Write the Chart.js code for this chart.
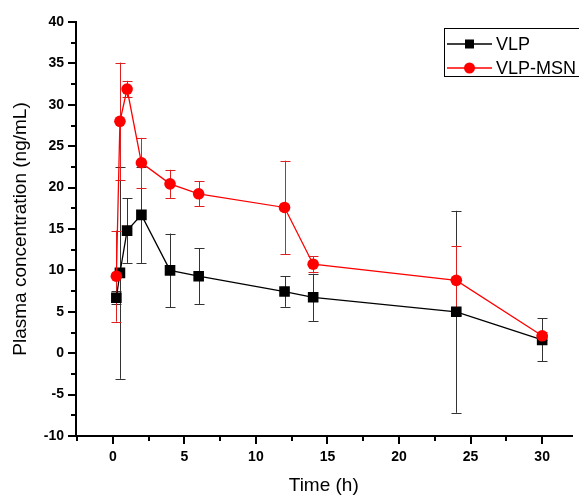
<!DOCTYPE html>
<html>
<head>
<meta charset="utf-8">
<script src="https://cdn.jsdelivr.net/npm/chart.js@4.4.1/dist/chart.umd.min.js"></script>
<style>
  html, body { margin: 0; padding: 0; background: #fff; overflow: hidden; }
  #wrap { width: 579px; height: 495px; position: relative; }
</style>
</head>
<body>
<div id="wrap"><canvas id="chart" width="579" height="495"></canvas></div>
<script>
// Sampling times (h)
const timeHours = [0.25, 0.5, 1, 2, 4, 6, 12, 14, 24, 30];

// Mean plasma concentration (ng/mL) and standard deviation per group
const vlpMean = [6.7, 9.7, 14.8, 16.7, 10.0, 9.3, 7.45, 6.75, 5.0, 1.6];
const vlpSD   = [0.8, 12.8, 3.9, 5.8, 4.45, 3.35, 1.85, 2.85, 12.2, 2.6];
const msnMean = [9.3, 28.0, 31.9, 23.0, 20.45, 19.25, 17.6, 10.75, 8.8, 2.1];
const msnSD   = [5.5, 7.1, 1.0, 3.0, 1.7, 1.5, 5.65, 0.95, 4.2, 0.5];

const seriesNames = ['VLP', 'VLP-MSN'];

// Axis tick values
const xMajorTicks = [0, 5, 10, 15, 20, 25, 30];
const xMinorTicks = [-2.5, 2.5, 7.5, 12.5, 17.5, 22.5, 27.5];
const yMajorTicks = [-10, -5, 0, 5, 10, 15, 20, 25, 30, 35, 40];
const yMinorTicks = [-7.5, -2.5, 2.5, 7.5, 12.5, 17.5, 22.5, 27.5, 32.5, 37.5];

const FONT = '"Liberation Sans", Arial, Helvetica, sans-serif';

const toPoints = (xs, ys) => xs.map((x, i) => ({ x: x, y: ys[i] }));

// Vertical error bars with caps, positioned through the chart scales
const errorBarPlugin = {
  id: 'errorBars',
  beforeDatasetsDraw(chart) {
    const ctx = chart.ctx;
    const xs = chart.scales.x, ys = chart.scales.y;
    const metas = chart.getSortedVisibleDatasetMetas().slice().reverse();
    metas.forEach(meta => {
      const ds = chart.data.datasets[meta.index];
      if (!ds.errors) return;
      ctx.save();
      ctx.strokeStyle = ds.errorColor;
      ctx.lineWidth = 1;
      ds.data.forEach((p, i) => {
        const e = ds.errors[i];
        const px = Math.round(xs.getPixelForValue(p.x)) + 0.5;
        const top = ys.getPixelForValue(p.y + e);
        const bot = ys.getPixelForValue(p.y - e);
        const cap = 5;
        ctx.beginPath();
        ctx.moveTo(px, top); ctx.lineTo(px, bot);
        ctx.moveTo(px - cap, Math.round(top) + 0.5); ctx.lineTo(px + cap, Math.round(top) + 0.5);
        ctx.moveTo(px - cap, Math.round(bot) + 0.5); ctx.lineTo(px + cap, Math.round(bot) + 0.5);
        ctx.stroke();
      });
      ctx.restore();
    });
  }
};

// Short minor tick marks between the labelled ticks
const minorTickPlugin = {
  id: 'minorTicks',
  afterDraw(chart) {
    const ctx = chart.ctx;
    const xs = chart.scales.x, ys = chart.scales.y;
    const area = chart.chartArea;
    ctx.save();
    ctx.strokeStyle = '#000';
    ctx.lineWidth = 2;
    ctx.beginPath();
    xMinorTicks.forEach(v => {
      const px = Math.round(xs.getPixelForValue(v));
      ctx.moveTo(px, area.bottom); ctx.lineTo(px, area.bottom + 5);
    });
    yMinorTicks.forEach(v => {
      const py = Math.round(ys.getPixelForValue(v));
      ctx.moveTo(area.left, py); ctx.lineTo(area.left - 5, py);
    });
    ctx.stroke();
    ctx.restore();
  }
};

// Boxed legend in the upper right corner
const boxLegendPlugin = {
  id: 'boxLegend',
  afterDraw(chart) {
    const ctx = chart.ctx;
    const left = 444.5, top = 28.5, w = 160, h = 48;
    ctx.save();
    ctx.strokeStyle = '#000';
    ctx.lineWidth = 1;
    ctx.strokeRect(left, top, w, h);
    const rows = [44, 68];
    chart.data.datasets.forEach((ds, i) => {
      const y = rows[i];
      ctx.strokeStyle = ds.borderColor;
      ctx.lineWidth = 1.3;
      ctx.beginPath();
      ctx.moveTo(447, y); ctx.lineTo(492, y);
      ctx.stroke();
      ctx.fillStyle = ds.backgroundColor;
      if (ds.pointStyle === 'rect') {
        ctx.fillRect(465, y - 4.5, 9, 9);
      } else {
        ctx.beginPath();
        ctx.arc(469.5, y, 5.5, 0, Math.PI * 2);
        ctx.fill();
      }
      ctx.fillStyle = '#000';
      ctx.font = '18px ' + FONT;
      ctx.textBaseline = 'middle';
      ctx.textAlign = 'left';
      ctx.fillText(ds.label, 496, y + 1);
    });
    ctx.restore();
  }
};

new Chart(document.getElementById('chart'), {
  type: 'line',
  data: {
    datasets: [
      {
        label: seriesNames[0],
        data: toPoints(timeHours, vlpMean),
        errors: vlpSD,
        errorColor: '#333',
        borderColor: '#000',
        backgroundColor: '#000',
        borderWidth: 1.3,
        pointStyle: 'rect',
        pointRadius: 7.5,
        pointBorderWidth: 0,
        tension: 0,
        order: 2
      },
      {
        label: seriesNames[1],
        data: toPoints(timeHours, msnMean),
        errors: msnSD,
        errorColor: '#e02020',
        borderColor: '#ff0000',
        backgroundColor: '#ff0000',
        borderWidth: 1.3,
        pointStyle: 'circle',
        pointRadius: 5.8,
        pointBorderWidth: 0,
        tension: 0,
        order: 1
      }
    ]
  },
  options: {
    responsive: false,
    animation: false,
    devicePixelRatio: 1,
    layout: { padding: { top: 22, right: 0, left: 0, bottom: 0 } },
    plugins: {
      legend: { display: false },
      tooltip: { enabled: false }
    },
    scales: {
      x: {
        type: 'linear',
        min: -2.57,
        max: 32.05,
        afterBuildTicks(scale) { scale.ticks = xMajorTicks.map(v => ({ value: v })); },
        afterFit(scale) { scale.height = 59; },
        border: { display: true, color: '#000', width: 2 },
        grid: { drawOnChartArea: false, drawTicks: true, tickLength: 8, color: '#000', lineWidth: 2 },
        ticks: {
          color: '#000',
          padding: 5,
          maxRotation: 0,
          font: { family: FONT, size: 14, weight: 'bold' },
          callback: v => String(v)
        },
        title: {
          display: true,
          text: 'Time (h)',
          color: '#000',
          padding: { top: 0, bottom: 0 },
          font: { family: FONT, size: 19, lineHeight: 1 }
        }
      },
      y: {
        type: 'linear',
        min: -10,
        max: 40,
        afterBuildTicks(scale) { scale.ticks = yMajorTicks.map(v => ({ value: v })); },
        afterFit(scale) { scale.width = 76; },
        border: { display: true, color: '#000', width: 2 },
        grid: { drawOnChartArea: false, drawTicks: true, tickLength: 8, color: '#000', lineWidth: 2 },
        ticks: {
          color: '#000',
          padding: 4,
          font: { family: FONT, size: 14, weight: 'bold' },
          callback: v => String(v)
        },
        title: {
          display: true,
          text: 'Plasma concentration (ng/mL)',
          color: '#000',
          padding: { top: 9, bottom: 0 },
          font: { family: FONT, size: 19 }
        }
      }
    }
  },
  plugins: [errorBarPlugin, minorTickPlugin, boxLegendPlugin]
});
</script>
</body>
</html>
